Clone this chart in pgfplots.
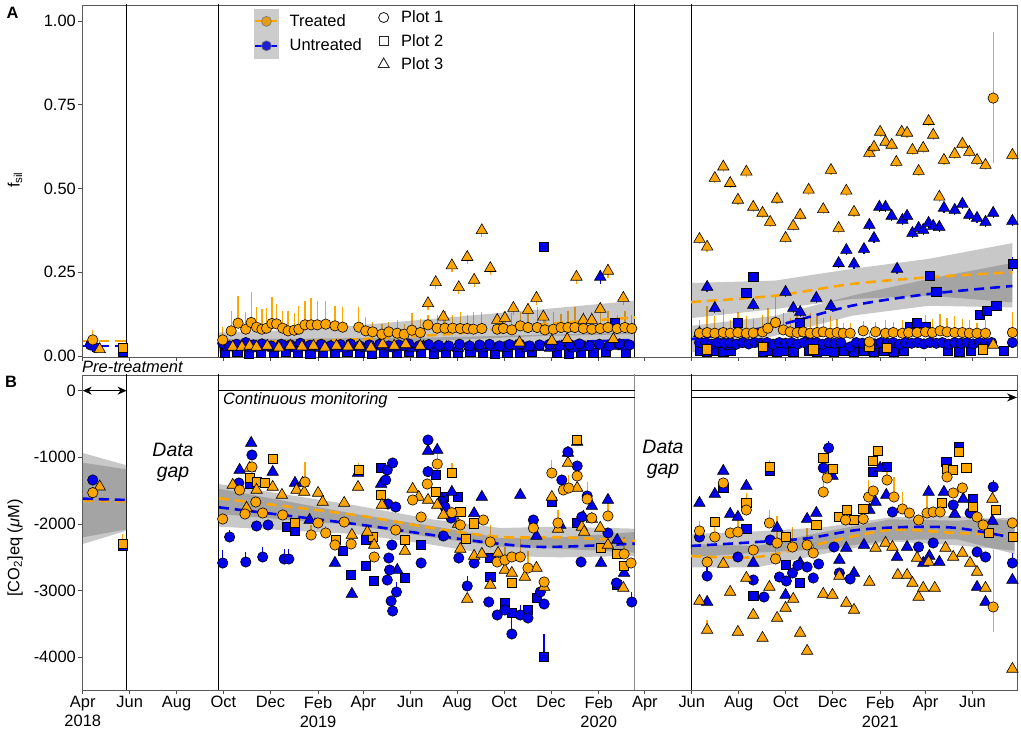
\documentclass[border=0pt]{standalone}
\usepackage{fontspec}
\setmainfont{Liberation Sans}
\usepackage{pgfplots}
\pgfplotsset{compat=1.18}
\usepackage{pgfplotstable}
\usetikzlibrary{arrows.meta}
\definecolor{tro}{RGB}{255,165,0}
\definecolor{unb}{RGB}{0,0,238}
\newcommand{\fs}{\fontsize{16.5}{19}\selectfont}

% ---------------- Panel B data: day (since 1 Apr 2018), value, err+, err- ----
\pgfplotstableread{
x y ep em
13 -1530 0 0
182 -1925 0 0
204 -1490 80 0
211 -1850 60 0
220 -1145 0 0
225 -1670 0 0
234 -1835 0 0
260 -1865 80 0
289 -1370 300 0
297 -2165 150 0
306 -1985 0 0
316 -2135 100 0
328 -2315 0 0
340 -1970 0 0
349 -2300 0 0
379 -2495 0 0
407 -2090 0 0
429 -1640 0 0
440 -1895 0 0
448 -1400 0 0
461 -1100 150 0
480 -1830 0 0
491 -2015 0 0
521 -1940 0 0
530 -2270 250 0
539 -2570 0 0
549 -2540 200 0
558 -2495 0 0
569 -2495 300 0
579 -2660 250 0
586 -2060 200 0
600 -2870 0 0
610 -1235 200 0
618 -1985 200 0
625 -1490 0 0
632 -1460 200 0
643 -1280 200 0
656 -1625 250 0
662 -1910 0 0
683 -1880 200 0
704 -2450 250 0
713 -2585 0 0
802 -2105 150 0
812 -2570 0 0
822 -2195 150 0
833 -1385 0 0
842 -2135 0 0
852 -2120 200 0
863 -1790 250 0
872 -2390 0 0
893 -1985 200 0
901 -2525 250 0
903 -2285 400 0
923 -2345 300 0
942 -2315 250 0
950 -2435 150 0
963 -1520 300 0
968 -1310 300 0
992 -1940 0 0
1015 -1925 0 0
1022 -1595 250 0
1028 -1505 0 0
1046 -1340 200 0
1055 -1595 300 0
1066 -1775 250 0
1075 -1835 0 0
1087 -1940 0 0
1098 -1835 250 0
1106 -1820 0 0
1115 -1820 0 0
1124 -1295 0 0
1132 -1535 0 0
1144 -1460 0 0
1163 -1895 0 0
1171 -2015 0 0
1184 -3245 850 375
1209 -1985 0 0
}\BTc
\pgfplotstableread{
x y ep em
52 -2300 150 0
217 -1310 0 0
226 -1370 0 0
237 -1385 0 0
247 -1025 0 0
276 -1985 0 0
329 -2240 0 0
359 -1190 100 0
377 -2195 0 0
388 -1565 0 0
419 -2240 0 0
459 -1520 0 0
480 -1235 150 0
491 -1820 0 0
498 -2225 0 0
509 -1990 0 0
558 -2885 0 0
643 -740 0 0
674 -2360 0 0
694 -2450 0 0
704 -2630 0 0
822 -1970 0 0
863 -1685 0 0
893 -1145 100 0
914 -2195 0 0
954 -2015 0 0
963 -1010 0 0
975 -1175 0 0
984 -1895 0 0
994 -1790 0 0
1003 -1940 0 0
1015 -1775 0 0
1027 -1055 0 0
1034 -905 0 0
1117 -1685 0 0
1124 -1175 0 0
1131 -1190 0 0
1139 -920 0 0
1149 -1160 0 0
1158 -1745 0 0
1178 -2135 0 0
1187 -1790 0 0
1209 -2195 0 0
}\BTs
\pgfplotstableread{
x y ep em
22 -1440 0 0
195 -1415 0 0
213 -1760 0 0
217 -1160 0 0
226 -1490 0 0
247 -1445 0 0
259 -1565 0 0
278 -1490 0 0
288 -1520 0 0
306 -1535 0 0
312 -1670 0 0
340 -1685 0 0
350 -2165 0 0
358 -1445 0 0
370 -2120 0 0
379 -2315 0 0
389 -1715 0 0
419 -2405 0 0
429 -1475 0 0
437 -1595 0 0
449 -1640 0 0
461 -1715 0 0
469 -1865 0 0
488 -2000 0 0
491 -2375 0 0
500 -3125 0 0
509 -2480 0 0
519 -2450 0 0
530 -2915 0 0
540 -2435 0 0
549 -2690 0 0
558 -2735 0 0
575 -2795 0 0
590 -2660 0 0
600 -2945 0 0
610 -1595 0 0
618 -2075 0 0
631 -1085 0 0
643 -1460 0 0
649 -2045 0 0
652 -2120 0 0
662 -1925 0 0
673 -2060 0 0
683 -2315 0 0
703 -2960 0 0
802 -3155 0 0
812 -3590 150 0
833 -2600 0 0
842 -3020 0 0
852 -3620 0 0
863 -2810 0 0
872 -3365 0 0
884 -3710 0 0
893 -2945 0 0
903 -3410 0 0
914 -3260 0 0
924 -3125 0 0
933 -3635 0 0
942 -3905 0 0
963 -3050 0 0
975 -3065 0 0
984 -2780 0 0
993 -3185 0 0
1003 -3290 0 0
1023 -2870 0 0
1031 -2360 0 0
1044 -2285 0 0
1053 -2345 0 0
1060 -2765 0 0
1072 -2765 0 0
1079 -2885 0 0
1085 -2510 0 0
1087 -3095 0 0
1093 -2960 0 0
1100 -2570 0 0
1108 -2960 0 0
1122 -2360 0 0
1132 -2495 0 0
1144 -2435 0 0
1154 -2585 0 0
1163 -2720 0 0
1174 -2960 0 0
1183 -1625 0 0
1209 -4175 0 0
}\BTt
\pgfplotstableread{
x y ep em
13 -1340 0 0
182 -2585 200 0
191 -2195 100 0
203 -1385 0 0
212 -2570 150 0
220 -965 0 0
226 -2030 0 0
234 -2495 150 0
241 -2015 0 0
262 -2525 150 0
268 -2525 150 0
394 -1340 0 0
396 -1190 0 0
403 -1085 0 0
397 -1700 0 0
407 -1745 0 0
402 -2315 0 0
398 -2510 0 0
399 -2690 0 0
396 -2840 0 0
401 -3155 0 0
403 -3305 0 0
408 -3020 150 0
440 -2585 0 0
449 -740 0 0
449 -1215 0 0
469 -2180 0 0
471 -1745 0 0
479 -1910 0 0
489 -2510 0 0
500 -2930 150 0
509 -2585 0 0
528 -3170 0 0
539 -3365 0 0
549 -3290 150 0
558 -3650 250 0
569 -3365 150 0
579 -3410 0 0
586 -1940 0 0
595 -3020 0 0
600 -3200 0 0
623 -1340 0 0
631 -920 0 0
643 -1130 0 0
648 -2570 0 0
649 -1895 0 0
656 -1580 0 0
683 -2135 0 0
694 -2885 0 0
714 -3170 150 0
802 -2195 0 0
812 -2780 150 0
852 -2495 0 0
872 -2840 0 0
886 -3095 0 0
894 -2240 0 0
906 -2795 0 0
915 -2855 0 0
923 -2735 0 0
930 -2620 0 0
942 -2645 0 0
950 -2810 0 0
957 -2600 0 0
963 -1160 0 0
970 -860 100 0
977 -2345 0 0
984 -2735 0 0
998 -2825 0 0
1053 -1820 0 0
1087 -2345 0 0
1106 -2285 0 0
1132 -1715 0 0
1154 -1835 0 0
1163 -2420 0 0
1174 -2495 0 0
1184 -1445 100 0
1209 -2585 150 0
}\BUc
\pgfplotstableread{
x y ep em
52 -2330 0 0
217 -1400 0 0
265 -2040 0 0
276 -2100 0 0
338 -2405 0 0
349 -2765 0 0
368 -2240 0 0
368 -2630 0 0
379 -2855 0 0
388 -1160 0 0
419 -2810 0 0
440 -2315 0 0
459 -1265 0 0
469 -1595 0 0
488 -1595 0 0
530 -2510 0 0
530 -2795 0 0
549 -3185 0 0
558 -3335 0 0
579 -3290 0 0
590 -3110 0 0
600 -3995 350 0
610 -1670 0 0
643 -1985 0 0
694 -2915 0 0
833 -1460 0 0
863 -2075 0 0
872 -3080 0 0
893 -1200 0 0
914 -2615 0 0
933 -2885 0 0
1027 -1220 0 0
1046 -1145 0 0
1123 -1070 0 0
1139 -845 0 0
1158 -1625 0 0
}\BUs
\pgfplotstableread{
x y ep em
204 -1190 0 0
219 -785 0 0
247 -1220 0 0
276 -1385 0 0
286 -1385 0 0
295 -1940 0 0
328 -2585 0 0
350 -3050 0 0
358 -1235 0 0
388 -1400 0 0
409 -2690 0 0
449 -905 0 0
461 -890 0 0
469 -1670 0 0
480 -1520 0 0
509 -1840 0 0
519 -1595 0 0
569 -1565 0 0
590 -2180 0 0
621 -2015 0 0
631 -935 0 0
643 -770 0 0
651 -1895 0 0
662 -1730 0 0
674 -2585 0 0
683 -1640 0 0
695 -2240 0 0
704 -2735 0 0
802 -1685 0 0
812 -3170 0 0
822 -1550 0 0
833 -1205 0 0
842 -1850 0 0
852 -1895 0 0
863 -1430 0 0
872 -2585 0 0
903 -2060 0 0
914 -3065 0 0
933 -2585 0 0
942 -1925 0 0
954 -1835 0 0
975 -1280 0 0
984 -2540 0 0
993 -2360 0 0
1003 -2735 0 0
1016 -2315 0 0
1023 -1790 0 0
1031 -1670 0 0
1037 -1160 0 0
1045 -1565 0 0
1059 -2495 0 0
1072 -2345 0 0
1093 -2585 0 0
1100 -1520 0 0
1101 -2480 0 0
1114 -2570 0 0
1120 -1520 0 0
1134 -1850 0 0
1145 -1625 0 0
1163 -2945 0 0
1174 -3170 0 0
1183 -1955 0 0
1209 -2840 0 0
}\BUt

% ---------------- Panel A data ----------------
\pgfplotstableread{
x y ep em
13 0.048 0.03 0
182 0.048 0.04 0
193 0.075 0.06 0
202 0.098 0.08 0
212 0.080 0.05 0
219 0.100 0.09 0
226 0.086 0.06 0
233 0.080 0.06 0
239 0.083 0.06 0
246 0.097 0.08 0
252 0.096 0.06 0
260 0.083 0.05 0
267 0.075 0.06 0
275 0.077 0.05 0
281 0.080 0.07 0
289 0.093 0.07 0
297 0.093 0.08 0
305 0.093 0.07 0
316 0.095 0.07 0
328 0.090 0.06 0
338 0.086 0.06 0
359 0.086 0.06 0
368 0.075 0.04 0
377 0.072 0.03 0
389 0.065 0.03 0
398 0.072 0.03 0
409 0.068 0.04 0
418 0.065 0.03 0
428 0.077 0.05 0
439 0.070 0.04 0
449 0.093 0.03 0
461 0.083 0.04 0
471 0.083 0.05 0
481 0.083 0.04 0
491 0.082 0.05 0
500 0.082 0.04 0
508 0.080 0.05 0
519 0.082 0.05 0
539 0.080 0.04 0
547 0.082 0.05 0
558 0.078 0.05 0
569 0.090 0.04 0
579 0.085 0.05 0
591 0.085 0.06 0
601 0.078 0.05 0
612 0.080 0.05 0
622 0.085 0.04 0
631 0.085 0.05 0
640 0.085 0.06 0
651 0.082 0.05 0
662 0.080 0.05 0
673 0.082 0.04 0
683 0.085 0.05 0
695 0.082 0.04 0
705 0.085 0.05 0
714 0.082 0.04 0
802 0.068 0.04 0
812 0.070 0.08 0
822 0.068 0.05 0
833 0.070 0.07 0
842 0.068 0.04 0
852 0.070 0.06 0
863 0.068 0.05 0
872 0.069 0.04 0
884 0.072 0.05 0
891 0.083 0.06 0
901 0.100 0.08 0
911 0.078 0.05 0
920 0.072 0.04 0
929 0.070 0.06 0
937 0.072 0.05 0
946 0.068 0.06 0
955 0.070 0.05 0
963 0.072 0.04 0
972 0.068 0.05 0
981 0.070 0.04 0
989 0.068 0.03 0
998 0.068 0.03 0
1015 0.075 0.03 0
1023 0.042 0.03 0
1031 0.072 0.03 0
1044 0.068 0.04 0
1054 0.070 0.03 0
1066 0.068 0.04 0
1074 0.070 0.03 0
1085 0.070 0.04 0
1096 0.072 0.05 0
1105 0.070 0.04 0
1115 0.075 0.05 0
1124 0.072 0.04 0
1134 0.070 0.05 0
1144 0.070 0.04 0
1153 0.068 0.04 0
1163 0.068 0.03 0
1174 0.068 0.04 0
1184 0.770 0.197 0.194
1209 0.070 0.06 0
}\ATc
\pgfplotstableread{
x y ep em
52 0.024 0.015 0.01
812 0.020 0 0
884 0.027 0 0
950 0.020 0 0
1023 0.027 0 0
1046 0.025 0 0
1170 0.020 0 0
}\ATs
\pgfplotstableread{
x y ep em
22 0.020 0.01 0
195 0.027 0 0
207 0.027 0 0
217 0.030 0 0
226 0.027 0 0
240 0.030 0 0
255 0.025 0 0
270 0.030 0 0
285 0.028 0 0
300 0.030 0 0
315 0.025 0 0
330 0.030 0 0
345 0.028 0 0
360 0.030 0 0
375 0.025 0 0
390 0.035 0 0
405 0.030 0 0
420 0.035 0 0
439 0.030 0 0
449 0.157 0.02 0.02
459 0.220 0.02 0.02
469 0.117 0.02 0.02
480 0.270 0.02 0.02
489 0.205 0.02 0.02
500 0.295 0.02 0.02
509 0.227 0.02 0.02
519 0.375 0.02 0.02
530 0.262 0.02 0.02
539 0.107 0.02 0.02
549 0.113 0.02 0.02
560 0.143 0.02 0.02
568 0.040 0 0
579 0.137 0.02 0.02
590 0.173 0.02 0.02
599 0.117 0.02 0.02
610 0.045 0 0
630 0.050 0.01 0.01
642 0.236 0.02 0.02
651 0.107 0.02 0.02
662 0.107 0.02 0.02
673 0.140 0.02 0.02
683 0.254 0.02 0.02
690 0.050 0 0
703 0.173 0.02 0.02
802 0.349 0.015 0.015
812 0.326 0.015 0.015
822 0.531 0.015 0.015
833 0.565 0.015 0.015
842 0.516 0.015 0.015
852 0.466 0.015 0.015
863 0.550 0.015 0.015
872 0.445 0.015 0.015
884 0.427 0.015 0.015
894 0.400 0.015 0.015
903 0.469 0.015 0.015
914 0.352 0.015 0.015
924 0.388 0.015 0.015
933 0.421 0.015 0.015
944 0.496 0.015 0.015
963 0.438 0.015 0.015
973 0.555 0.015 0.015
983 0.382 0.015 0.015
993 0.493 0.015 0.015
1003 0.430 0.015 0.015
1023 0.606 0.015 0.015
1029 0.624 0.015 0.015
1037 0.669 0.015 0.015
1044 0.639 0.015 0.015
1052 0.630 0.015 0.015
1058 0.579 0.015 0.015
1065 0.669 0.015 0.015
1072 0.666 0.015 0.015
1079 0.615 0.015 0.015
1087 0.552 0.015 0.015
1093 0.621 0.015 0.015
1100 0.701 0.015 0.015
1106 0.660 0.015 0.015
1114 0.475 0.015 0.015
1120 0.585 0.015 0.015
1134 0.603 0.015 0.015
1144 0.633 0.015 0.015
1153 0.609 0.015 0.015
1163 0.585 0.015 0.015
1174 0.570 0.015 0.015
1184 0.033 0 0
1209 0.600 0.015 0.015
}\ATt
\pgfplotstableread{
x y ep em
10 0.033 0 0
17 0.025 0 0
182 0.038 0 0
191 0.030 0 0
200 0.035 0 0
212 0.040 0 0
222 0.033 0 0
233 0.036 0 0
245 0.030 0 0
258 0.035 0 0
270 0.033 0 0
283 0.038 0 0
296 0.032 0 0
310 0.035 0 0
322 0.030 0 0
335 0.034 0 0
348 0.036 0 0
360 0.030 0 0
373 0.033 0 0
386 0.035 0 0
398 0.030 0 0
411 0.033 0 0
424 0.036 0 0
437 0.030 0 0
450 0.034 0 0
463 0.032 0 0
476 0.030 0 0
490 0.035 0 0
503 0.030 0 0
516 0.033 0 0
529 0.035 0 0
542 0.030 0 0
555 0.034 0 0
568 0.036 0 0
581 0.030 0 0
594 0.033 0 0
607 0.035 0 0
620 0.030 0 0
633 0.034 0 0
646 0.036 0 0
659 0.030 0 0
672 0.035 0 0
685 0.030 0 0
698 0.036 0 0
711 0.033 0 0
802 0.040 0 0
810 0.040 0 0
818 0.035 0 0
826 0.040 0 0
834 0.038 0 0
842 0.040 0 0
850 0.035 0 0
858 0.040 0 0
866 0.036 0 0
874 0.040 0 0
882 0.038 0 0
890 0.040 0 0
898 0.035 0 0
906 0.040 0 0
914 0.038 0 0
922 0.040 0 0
930 0.036 0 0
938 0.040 0 0
946 0.038 0 0
954 0.040 0 0
962 0.035 0 0
970 0.040 0 0
978 0.038 0 0
986 0.040 0 0
998 0.027 0 0
1006 0.040 0 0
1014 0.038 0 0
1022 0.040 0 0
1030 0.036 0 0
1038 0.040 0 0
1046 0.038 0 0
1054 0.040 0 0
1062 0.035 0 0
1070 0.040 0 0
1078 0.038 0 0
1086 0.040 0 0
1094 0.036 0 0
1102 0.040 0 0
1110 0.038 0 0
1118 0.040 0 0
1126 0.035 0 0
1134 0.040 0 0
1142 0.038 0 0
1150 0.040 0 0
1158 0.036 0 0
1166 0.040 0 0
1174 0.038 0 0
1182 0.040 0 0
1209 0.040 0 0
}\AUc
\pgfplotstableread{
x y ep em
52 0.012 0 0
185 0.010 0 0
201 0.012 0 0
216 0.008 0 0
232 0.011 0 0
248 0.009 0 0
264 0.012 0 0
280 0.010 0 0
296 0.008 0 0
312 0.011 0 0
328 0.009 0 0
344 0.012 0 0
360 0.010 0 0
376 0.008 0 0
392 0.011 0 0
408 0.009 0 0
424 0.012 0 0
440 0.010 0 0
456 0.008 0 0
472 0.011 0 0
488 0.009 0 0
504 0.012 0 0
520 0.010 0 0
536 0.008 0 0
552 0.011 0 0
568 0.009 0 0
584 0.012 0 0
600 0.325 0.015 0.015
616 0.010 0 0
632 0.008 0 0
648 0.011 0 0
664 0.009 0 0
680 0.012 0 0
692 0.100 0.01 0.01
706 0.010 0 0
802 0.015 0 0
812 0.012 0 0
822 0.016 0 0
833 0.013 0 0
842 0.015 0 0
852 0.100 0.01 0.01
863 0.188 0.01 0.01
872 0.236 0.015 0.015
884 0.014 0 0
894 0.016 0 0
903 0.012 0 0
914 0.015 0 0
924 0.013 0 0
933 0.098 0.01 0.01
944 0.015 0 0
955 0.012 0 0
966 0.016 0 0
977 0.013 0 0
990 0.015 0 0
1003 0.012 0 0
1016 0.016 0 0
1029 0.013 0 0
1042 0.015 0 0
1055 0.012 0 0
1068 0.016 0 0
1076 0.087 0.01 0.01
1085 0.098 0.01 0.01
1096 0.087 0.01 0.01
1102 0.239 0.01 0.01
1110 0.191 0.01 0.01
1125 0.015 0 0
1140 0.012 0 0
1155 0.016 0 0
1167 0.122 0.01 0.01
1176 0.134 0.01 0.01
1188 0.149 0.01 0.01
1198 0.015 0 0
1209 0.275 0.02 0.02
}\AUs
\pgfplotstableread{
x y ep em
188 0.025 0 0
203 0.028 0 0
218 0.022 0 0
233 0.026 0 0
248 0.024 0 0
263 0.028 0 0
278 0.022 0 0
293 0.026 0 0
308 0.024 0 0
323 0.028 0 0
338 0.022 0 0
353 0.026 0 0
368 0.024 0 0
383 0.028 0 0
398 0.022 0 0
413 0.026 0 0
428 0.024 0 0
443 0.028 0 0
458 0.022 0 0
473 0.026 0 0
488 0.024 0 0
503 0.028 0 0
518 0.022 0 0
533 0.026 0 0
548 0.024 0 0
563 0.028 0 0
578 0.022 0 0
593 0.026 0 0
608 0.024 0 0
623 0.028 0 0
638 0.022 0 0
653 0.026 0 0
673 0.236 0.02 0.02
688 0.030 0 0
703 0.028 0 0
802 0.068 0.01 0.01
812 0.206 0.015 0.015
822 0.143 0.015 0.015
842 0.030 0 0
872 0.152 0.015 0.015
914 0.191 0.015 0.015
924 0.143 0.015 0.015
933 0.131 0.015 0.015
944 0.053 0.01 0.01
954 0.173 0.015 0.015
973 0.149 0.015 0.015
983 0.277 0.015 0.015
993 0.316 0.015 0.015
1003 0.275 0.015 0.015
1016 0.319 0.015 0.015
1023 0.391 0.015 0.015
1029 0.352 0.015 0.015
1036 0.445 0.015 0.015
1044 0.445 0.015 0.015
1052 0.418 0.015 0.015
1059 0.260 0.015 0.015
1066 0.406 0.015 0.015
1072 0.418 0.015 0.015
1079 0.367 0.015 0.015
1087 0.382 0.015 0.015
1093 0.376 0.015 0.015
1100 0.397 0.015 0.015
1106 0.388 0.015 0.015
1114 0.385 0.015 0.015
1120 0.442 0.015 0.015
1134 0.436 0.015 0.015
1144 0.454 0.015 0.015
1153 0.421 0.015 0.015
1163 0.412 0.015 0.015
1174 0.400 0.015 0.015
1184 0.427 0.015 0.015
1209 0.403 0.015 0.015
}\AUt

\pgfplotsset{
  base/.style={width=935bp, scale only axis, xmin=-1, xmax=1215,
    axis line style={black!65, line width=0.8bp},
    tick style={black!70, line width=0.8bp}, tick align=outside,
    major tick length=4bp, xtick pos=bottom, ytick pos=left,
    xtick={0,61,122,183,244,306,365,426,487,548,609,671,731,792,853,914,975,1037,1096,1157},
    font=\fs, tick label style={font=\fs},
    yticklabel style={inner sep=2bp}, xticklabel style={inner sep=2bp}},
  tc/.style={only marks, forget plot, mark=*, mark size=5.2bp,
    mark options={draw=black, fill=tro, line width=0.6bp},
    error bars/.cd, y dir=both, y explicit, error mark=none,
    error bar style={tro, line width=1.3bp}},
  ts/.style={only marks, forget plot, mark=square*, mark size=4.6bp,
    mark options={draw=black, fill=tro, line width=0.6bp},
    error bars/.cd, y dir=both, y explicit, error mark=none,
    error bar style={tro, line width=1.3bp}},
  tt/.style={only marks, forget plot, mark=triangle*, mark size=6.6bp,
    mark options={draw=black, fill=tro, line width=0.6bp},
    error bars/.cd, y dir=both, y explicit, error mark=none,
    error bar style={tro, line width=1.3bp}},
  uc/.style={only marks, forget plot, mark=*, mark size=5.2bp,
    mark options={draw=black, fill=unb, line width=0.6bp},
    error bars/.cd, y dir=both, y explicit, error mark=none,
    error bar style={unb, line width=1.3bp}},
  us/.style={only marks, forget plot, mark=square*, mark size=4.6bp,
    mark options={draw=black, fill=unb, line width=0.6bp},
    error bars/.cd, y dir=both, y explicit, error mark=none,
    error bar style={unb, line width=1.3bp}},
  ut/.style={only marks, forget plot, mark=triangle*, mark size=6.6bp,
    mark options={draw=black, fill=unb, line width=0.6bp},
    error bars/.cd, y dir=both, y explicit, error mark=none,
    error bar style={unb, line width=1.3bp}},
  band/.style={forget plot, draw=none, fill=black!60, fill opacity=0.36},
  trl/.style={forget plot, tro, line width=2.6bp, dash pattern=on 10bp off 6bp, smooth},
  unl/.style={forget plot, unb, line width=2.6bp, dash pattern=on 10bp off 6bp, smooth},
  vl/.style={forget plot, black, line width=0.9bp},
}

\begin{document}
\begin{tikzpicture}[x=1bp,y=1bp]
\useasboundingbox (0,0) rectangle (1021,730);

% ================= Panel A =================
\begin{axis}[base, at={(82bp,373bp)}, anchor=south west, height=352bp,
  ymin=-0.003, ymax=1.048, ytick={0,0.25,0.5,0.75,1},
  yticklabels={0.00,0.25,0.50,0.75,1.00}, xticklabels={},
  legend style={at={(0.184,0.9886)}, anchor=north west, draw=none, fill=none,
    inner sep=0pt, row sep=0pt, font=\fs, nodes={inner sep=0pt, anchor=west},
    /tikz/every odd column/.append style={column sep=11bp}},
  legend cell align=left]
\addlegendimage{legend image code/.code={
  \fill[black!20] (0bp,-12bp) rectangle (24bp,12bp);
  \draw[tro, line width=1.8bp] (1bp,0bp) -- (23bp,0bp);
  \filldraw[fill=tro!80!gray, draw=black!55, line width=0.6bp] (12bp,0bp) circle (5bp);}}
\addlegendentry{Treated}
\addlegendimage{legend image code/.code={
  \fill[black!20] (0bp,-12bp) rectangle (24bp,12bp);
  \draw[unb, line width=1.8bp] (1bp,0bp) -- (23bp,0bp);
  \filldraw[fill=unb!75!gray, draw=black!55, line width=0.6bp] (12bp,0bp) circle (5bp);}}
\addlegendentry{Untreated}

\addplot[vl] coordinates {(57,-0.1) (57,1.1)};
\addplot[vl] coordinates {(177,-0.1) (177,1.1)};
\addplot[vl] coordinates {(718,-0.1) (718,1.1)};
\addplot[vl] coordinates {(791,-0.1) (791,1.1)};

\addplot[us] table[x=x, y=y, y error plus=ep, y error minus=em] {\AUs};
\addplot[ut] table[x=x, y=y, y error plus=ep, y error minus=em] {\AUt};
\addplot[uc] table[x=x, y=y, y error plus=ep, y error minus=em] {\AUc};
\addplot[ts] table[x=x, y=y, y error plus=ep, y error minus=em] {\ATs};
\addplot[tt] table[x=x, y=y, y error plus=ep, y error minus=em] {\ATt};
\addplot[tc] table[x=x, y=y, y error plus=ep, y error minus=em] {\ATc};

% confidence bands
\addplot[band] coordinates {(177,0.07)(300,0.08)(450,0.11)(600,0.14)(718,0.165)(718,0.065)(600,0.06)(450,0.045)(300,0.03)(177,0.015)};
\addplot[band] coordinates {(177,0.05)(450,0.055)(718,0.07)(718,0.02)(450,0.018)(177,0.01)};
\addplot[band] coordinates {(791,0.218)(900,0.225)(1000,0.26)(1100,0.29)(1209,0.337)(1209,0.16)(1100,0.18)(1000,0.17)(900,0.14)(791,0.113)};
\addplot[band] coordinates {(791,0.09)(900,0.12)(1000,0.18)(1100,0.23)(1209,0.278)(1209,0.145)(1100,0.15)(1000,0.12)(900,0.06)(791,0.01)};
% trends
\addplot[trl] coordinates {(0,0.045)(57,0.045)};
\addplot[unl] coordinates {(0,0.03)(57,0.03)};
\addplot[trl] coordinates {(177,0.04)(300,0.045)(400,0.055)(500,0.07)(600,0.095)(718,0.115)};
\addplot[unl] coordinates {(177,0.03)(400,0.032)(600,0.04)(718,0.048)};
\addplot[trl] coordinates {(791,0.161)(900,0.18)(1000,0.215)(1100,0.235)(1209,0.25)};
\addplot[unl] coordinates {(791,0.05)(900,0.09)(1000,0.15)(1100,0.185)(1209,0.209)};
\end{axis}

% second legend (plots)
\begin{axis}[at={(82bp,373bp)}, anchor=south west, width=935bp, height=352bp,
  scale only axis, hide axis, xmin=0, xmax=1, ymin=0, ymax=1,
  legend style={at={(0.3166,0.984)}, anchor=north west, draw=none, fill=none,
    inner sep=0pt, row sep=10bp, font=\fs, nodes={inner sep=0pt, anchor=west},
    /tikz/every odd column/.append style={column sep=12bp}},
  legend cell align=left]
\addlegendimage{only marks, mark=o, mark size=5bp, black!85, mark options={line width=0.9bp}}
\addlegendentry{Plot 1}
\addlegendimage{only marks, mark=square, mark size=4.5bp, black!85, mark options={line width=0.9bp}}
\addlegendentry{Plot 2}
\addlegendimage{only marks, mark=triangle, mark size=6.3bp, black!85, mark options={line width=0.9bp}}
\addlegendentry{Plot 3}
\end{axis}

% ================= Panel B =================
\begin{axis}[base, at={(82bp,40bp)}, anchor=south west, height=315bp,
  ymin=-4490, ymax=235, ytick={-4000,-3000,-2000,-1000,0},
  yticklabels={-4000,-3000,-2000,-1000,0},
  xticklabels={{Apr\\2018},Jun,Aug,Oct,Dec,{Feb\\2019},Apr,Jun,Aug,Oct,Dec,{Feb\\2020},Apr,Jun,Aug,Oct,Dec,{Feb\\2021},Apr,Jun},
  xticklabel style={align=center, font=\fs, anchor=north}]

\addplot[vl] coordinates {(57,-5000) (57,500)};
\addplot[vl] coordinates {(177,-5000) (177,500)};
\addplot[forget plot, black!45, line width=0.9bp] coordinates {(718,-5000) (718,500)};
\addplot[vl] coordinates {(791,-5000) (791,500)};

% annotations of the monitoring periods
\addplot[forget plot, black, line width=1bp, {Stealth[length=9bp,width=8bp]}-{Stealth[length=9bp,width=8bp]}] coordinates {(0,0)(57,0)};
\addplot[forget plot, black, line width=1bp] coordinates {(177,0)(718,0)};
\addplot[forget plot, black, line width=1bp] coordinates {(791,0)(1215,0)};
\addplot[forget plot, black, line width=1bp] coordinates {(410,-102)(718,-102)};
\addplot[forget plot, black, line width=1bp, -{Stealth[length=10bp,width=8bp]}] coordinates {(791,-102)(1215,-102)};

\addplot[us] table[x=x, y=y, y error plus=ep, y error minus=em] {\BUs};
\addplot[ut] table[x=x, y=y, y error plus=ep, y error minus=em] {\BUt};
\addplot[uc] table[x=x, y=y, y error plus=ep, y error minus=em] {\BUc};
\addplot[ts] table[x=x, y=y, y error plus=ep, y error minus=em] {\BTs};
\addplot[tt] table[x=x, y=y, y error plus=ep, y error minus=em] {\BTt};
\addplot[tc] table[x=x, y=y, y error plus=ep, y error minus=em] {\BTc};

% bands
\addplot[band] coordinates {(0,-935)(57,-1120)(57,-2100)(0,-2300)};
\addplot[band] coordinates {(0,-1080)(57,-1180)(57,-2080)(0,-2200)};
\addplot[band] coordinates {(177,-1400)(354,-1720)(454,-1930)(543,-2060)(621,-2040)(718,-2070)(718,-2430)(621,-2370)(543,-2340)(454,-2200)(354,-2020)(177,-1850)};
\addplot[band] coordinates {(177,-1470)(354,-1850)(454,-2030)(543,-2210)(621,-2200)(718,-2120)(718,-2480)(621,-2500)(543,-2480)(454,-2310)(354,-2150)(177,-2040)};
\addplot[band] coordinates {(791,-2300)(877,-2330)(963,-2120)(1050,-1930)(1137,-1950)(1212,-1900)(1212,-2400)(1137,-2320)(1050,-2260)(963,-2450)(877,-2650)(791,-2650)};
\addplot[band] coordinates {(791,-2150)(877,-2110)(963,-2050)(1050,-1900)(1137,-1880)(1212,-1950)(1212,-2450)(1137,-2230)(1050,-2240)(963,-2380)(877,-2430)(791,-2500)};
% trends
\addplot[trl] coordinates {(0,-1650)(57,-1660)};
\addplot[unl] coordinates {(0,-1620)(57,-1640)};
\addplot[trl] coordinates {(177,-1615)(354,-1865)(454,-2060)(543,-2195)(621,-2200)(718,-2255)};
\addplot[unl] coordinates {(177,-1750)(354,-2000)(454,-2165)(532,-2285)(602,-2345)(718,-2295)};
\addplot[trl] coordinates {(791,-2480)(877,-2495)(963,-2285)(1050,-2090)(1137,-2135)(1212,-2165)};
\addplot[unl] coordinates {(791,-2330)(877,-2270)(942,-2215)(1007,-2090)(1072,-2045)(1137,-2060)(1212,-2210)};
\end{axis}

% ================= Texts =================
\node[font=\bfseries\fs] at (12.5,717.5) {A};
\node[font=\bfseries\fs] at (11,348) {B};
\node[font=\fs, rotate=90] at (15,550) {f\textsubscript{sil}};
\node[font=\fs, rotate=90] at (15,182) {[CO\textsubscript{2}]eq ({\itshape μ}M)};
\node[font=\itshape\fs, anchor=west, inner sep=0pt] at (82,363) {Pre-treatment};
\node[font=\itshape\fs, anchor=west, inner sep=0pt] at (223,330) {Continuous monitoring};
\node[font=\itshape\fontsize{19.5}{21.5}\selectfont, align=center, inner sep=0pt] at (173,267.5) {Data\\gap};
\node[font=\itshape\fontsize{19.5}{21.5}\selectfont, align=center, inner sep=0pt] at (663,270.5) {Data\\gap};
\end{tikzpicture}
\end{document}
